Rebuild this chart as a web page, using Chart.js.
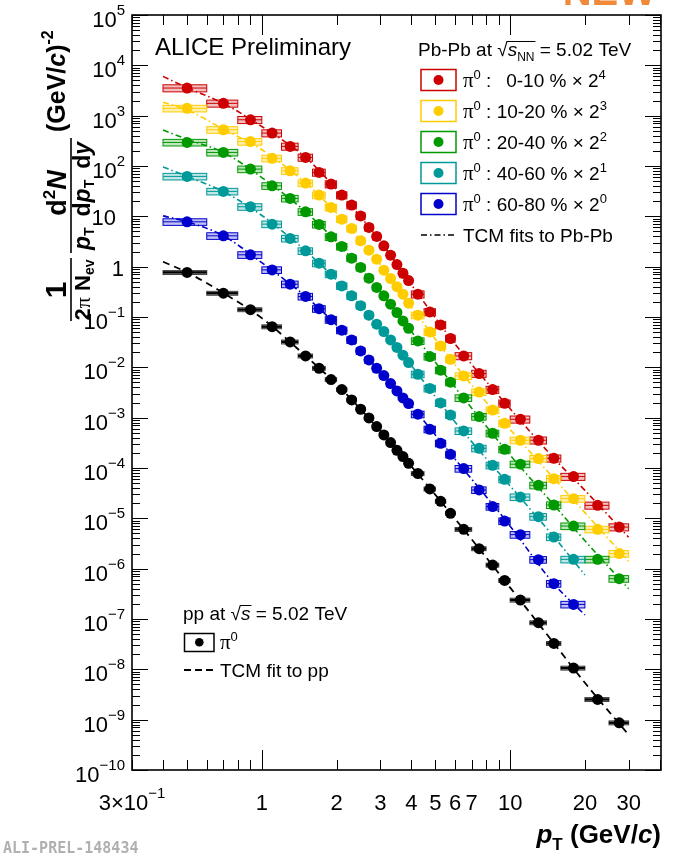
<!DOCTYPE html>
<html>
<head>
<meta charset="utf-8">
<script src="https://cdn.jsdelivr.net/npm/chart.js@4.4.1/dist/chart.umd.min.js"></script>
<style>
  html, body { margin: 0; padding: 0; background: #fff; }
  #c { display: block; }
</style>
</head>
<body>
<canvas id="c" width="688" height="855"></canvas>
<script>
// pT bins (GeV/c)
var ptCenters = [0.5,0.7,0.9,1.1,1.3,1.5,1.7,1.9,2.1,2.3,2.5,2.7,2.9,3.1,3.3,3.5,3.7,3.9,4.25,4.75,5.25,5.75,6.5,7.5,8.5,9.5,11,13,15,18,22.5,27.5];
var ptLow = [0.4,0.6,0.8,1.0,1.2,1.4,1.6,1.8,2.0,2.2,2.4,2.6,2.8,3.0,3.2,3.4,3.6,3.8,4.0,4.5,5.0,5.5,6,7,8,9,10,12,14,16,20,25];
var ptHigh = [0.6,0.8,1.0,1.2,1.4,1.6,1.8,2.0,2.2,2.4,2.6,2.8,3.0,3.2,3.4,3.6,3.8,4.0,4.5,5.0,5.5,6,7,8,9,10,12,14,16,20,25,30];

// invariant yields (already scaled by 2^n)
var yield0010 = [3540,1757,829,451,245,148,74.6,43.7,26.4,16.7,10.2,6.02,3.98,2.59,1.69,1.10,0.74,0.53,0.284,0.126,0.0696,0.0374,0.01686,0.00753,0.00362,0.00193,0.000929,0.000356,0.000156,6.75e-5,1.81e-5,6.7e-6];
var yield1020 = [1396,525,305,142,80.3,45.7,26.4,15.0,8.8,5.74,3.26,2.13,1.41,0.852,0.582,0.40,0.284,0.188,0.1086,0.0506,0.0266,0.01448,0.00675,0.00323,0.00142,0.000774,0.000356,0.000154,6.15e-5,2.46e-5,6.04e-6,1.99e-6];
var yield2040 = [294,186,86.7,40.4,22.7,12.3,6.90,3.91,2.52,1.476,0.964,0.590,0.386,0.263,0.180,0.1228,0.0836,0.0598,0.0335,0.0164,0.00876,0.00506,0.00247,0.00105,0.00049,0.000235,0.000119,4.53e-5,1.84e-5,7.03e-6,1.53e-6,6.33e-7];
var yield4060 = [62.1,31.3,15.5,7.0,3.64,2.06,1.17,0.71,0.415,0.263,0.168,0.1086,0.0719,0.0515,0.0351,0.0248,0.0174,0.01245,0.00729,0.00381,0.00196,0.00113,0.000544,0.000246,0.000113,5.96e-5,2.65e-5,1.08e-5,4.25e-6,1.53e-6];
var yield6080 = [7.78,4.10,1.72,0.863,0.449,0.256,0.146,0.0883,0.0546,0.0351,0.0212,0.0140,0.00959,0.00687,0.00476,0.0034,0.00247,0.00191,0.00117,0.000588,0.00031,0.000187,9.73e-5,3.66e-5,1.71e-5,8.84e-6,4.74e-6,1.51e-6,5.04e-7,1.95e-7];
var yieldPP = [0.767,0.297,0.140,0.0641,0.032,0.01686,0.00959,0.00572,0.00362,0.00225,0.00147,0.000986,0.000665,0.000453,0.00032,0.000225,0.000169,0.000124,7.78e-5,3.83e-5,2.18e-5,1.26e-5,6.04e-6,2.50e-6,1.18e-6,5.85e-7,2.38e-7,8.44e-8,3.27e-8,1.06e-8,2.52e-9,8.67e-10];

// TCM fit curves
var fitPt = [0.4,0.5,0.7,1,1.5,2,3,4,6,10,15,20,30];
var fitPtPeriph = [0.4,0.5,0.7,1,1.5,2,3,4,6,10,15,20];
var fit0010 = [6040,3600,1750,610,148,34,3.2,0.44,0.029,0.0015,1.56e-4,3.6e-5,4.2e-6];
var fit1020 = [1838,1300,540,210,46,11.5,1.1,0.16,0.0112,5.8e-4,6.2e-5,1.3e-5,1.4e-6];
var fit2040 = [517,340,186,59,12.3,3.1,0.32,0.052,0.004,1.8e-4,1.85e-5,3.6e-6,4e-7];
var fit4060 = [96,62,31,10.4,2.06,0.54,0.061,0.0108,8.2e-4,4.4e-5,4.3e-6,7.5e-7];
var fit6080 = [10.2,7.8,4.1,1.2,0.256,0.069,0.0081,0.0017,1.5e-4,7e-6,5e-7,1.2e-7];
var fitPP = [1.25,0.77,0.30,0.095,0.0169,0.0046,0.00055,0.000108,9.8e-6,4.2e-7,3.3e-8,5.4e-9,5e-10];

var centLabels = ["0-10", "10-20", "20-40", "40-60", "60-80"];
var scaleExps = ["4", "3", "2", "1", "0"];
var sysFrac = [0.16, 0.15, 0.15, 0.15, 0.15, 0.09];

var yTickExps = [-10,-9,-8,-7,-6,-5,-4,-3,-2,-1,0,1,2,3,4,5];
var xTickValues = [0.3,1,2,3,4,5,6,7,10,20,30];
var xTickLabels = ["3×10^−1","1","2","3","4","5","6","7","10","20","30"];

var colors = ["#cc0000", "#ffcc00", "#009900", "#009999", "#0000cc", "#000000"];
var fills = ["rgba(204,0,0,0.25)", "rgba(255,204,0,0.3)", "rgba(0,153,0,0.25)", "rgba(0,153,153,0.25)", "rgba(0,0,204,0.25)", "rgba(0,0,0,0.4)"];

var yieldSets = [yield0010, yield1020, yield2040, yield4060, yield6080, yieldPP];
var fitSets = [fit0010, fit1020, fit2040, fit4060, fit6080, fitPP];
var fitXs = [fitPt, fitPt, fitPt, fitPtPeriph, fitPtPeriph, fitPt];

var SANS = '"Liberation Sans", Arial, Helvetica, sans-serif';
var SERIF = '"Liberation Serif", "Times New Roman", serif';

function toXY(xs, ys) {
  return ys.map(function (v, j) { return { x: xs[j], y: v }; });
}

var datasets = [];
yieldSets.forEach(function (vals, i) {
  datasets.push({
    label: i < 5 ? centLabels[i] : "pp",
    data: toXY(ptCenters, vals),
    backgroundColor: colors[i],
    borderWidth: 0,
    pointRadius: 5.5,
    pointHoverRadius: 5.5,
    order: 0
  });
});
fitSets.forEach(function (vals, i) {
  datasets.push({
    label: "fit " + i,
    data: toXY(fitXs[i], vals),
    showLine: true,
    borderColor: colors[i],
    borderWidth: i < 5 ? 1.6 : 1.8,
    borderDash: i < 5 ? [6, 3, 1.5, 3] : [7, 5],
    pointRadius: 0,
    fill: false,
    cubicInterpolationMode: "monotone",
    order: 5
  });
});

// draw text made of pieces with different fonts / vertical shifts
function rich(ctx, x, y, parts, align) {
  var w = 0, widths = [];
  parts.forEach(function (p) {
    ctx.font = p[1];
    var pw = ctx.measureText(p[0]).width;
    widths.push(pw);
    w += pw;
  });
  if (align === "right") x -= w;
  else if (align === "center") x -= w / 2;
  var pos = [];
  ctx.textAlign = "left";
  ctx.textBaseline = "alphabetic";
  parts.forEach(function (p, k) {
    ctx.font = p[1];
    ctx.fillText(p[0], x, y + (p[2] || 0));
    pos.push([x, x + widths[k]]);
    x += widths[k];
  });
  return pos;
}

function line(ctx, x1, y1, x2, y2) {
  ctx.beginPath();
  ctx.moveTo(x1, y1);
  ctx.lineTo(x2, y2);
  ctx.stroke();
}

var boxPlugin = {
  id: "sysBoxes",
  beforeDatasetsDraw: function (chart) {
    var ctx = chart.ctx, xs = chart.scales.x, ys = chart.scales.y, a = chart.chartArea;
    ctx.save();
    ctx.beginPath();
    ctx.rect(a.left, a.top, a.right - a.left, a.bottom - a.top);
    ctx.clip();
    yieldSets.forEach(function (vals, i) {
      vals.forEach(function (v, j) {
        var x1 = xs.getPixelForValue(ptLow[j]);
        var x2 = xs.getPixelForValue(ptHigh[j]);
        var yt = ys.getPixelForValue(v * (1 + sysFrac[i]));
        var yb = ys.getPixelForValue(v * (1 - sysFrac[i]));
        var yc = ys.getPixelForValue(v);
        ctx.fillStyle = fills[i];
        ctx.fillRect(x1, yt, x2 - x1, yb - yt);
        ctx.strokeStyle = i < 5 ? colors[i] : "#444";
        ctx.lineWidth = 1;
        ctx.strokeRect(x1, yt, x2 - x1, yb - yt);
        ctx.strokeStyle = colors[i];
        ctx.lineWidth = i < 5 ? 1 : 2.2;
        line(ctx, x1, yc, x2, yc);
      });
    });
    ctx.restore();
  }
};

var framePlugin = {
  id: "rootFrame",
  afterDraw: function (chart) {
    var ctx = chart.ctx, xs = chart.scales.x, ys = chart.scales.y, a = chart.chartArea;
    ctx.save();
    ctx.strokeStyle = "#000";
    ctx.fillStyle = "#000";

    // ticks on y (left and right, inward)
    ctx.lineWidth = 1;
    yTickExps.forEach(function (e) {
      for (var m = 1; m <= 9; m++) {
        var v = m * Math.pow(10, e);
        if (v > 1.0001e5) break;
        var py = Math.round(ys.getPixelForValue(v)) + 0.5;
        var len = m === 1 ? 16 : 8;
        line(ctx, a.left, py, a.left + len, py);
        line(ctx, a.right, py, a.right - len, py);
      }
    });
    // ticks on x (bottom and top, inward)
    [-1, 0, 1].forEach(function (e) {
      for (var m = 1; m <= 9; m++) {
        var v = m * Math.pow(10, e);
        if (v < 0.2999 || v > 40.5) continue;
        var px = Math.round(xs.getPixelForValue(v)) + 0.5;
        var len = m === 1 ? 20 : 10;
        line(ctx, px, a.bottom, px, a.bottom - len);
        line(ctx, px, a.top, px, a.top + len);
      }
    });

    // frame
    ctx.lineWidth = 1.6;
    ctx.strokeRect(a.left, a.top, a.right - a.left, a.bottom - a.top);

    // y tick labels
    var fBase = "22px " + SANS, fExp = "15px " + SANS;
    yTickExps.forEach(function (e) {
      var py = ys.getPixelForValue(Math.pow(10, e));
      if (e === 0) {
        rich(ctx, 124, py + 9, [["1", fBase]], "right");
      } else if (e === 1) {
        rich(ctx, 116, py + 9, [["10", fBase]], "right");
      } else {
        var ex = e < 0 ? "\u2212" + (-e) : String(e);
        rich(ctx, 125, py + 12, [["10", fBase], [ex, fExp, -12]], "right");
      }
    });

    // x tick labels
    xTickValues.forEach(function (v, k) {
      var px = xs.getPixelForValue(v);
      var lab = xTickLabels[k];
      if (lab.indexOf("^") >= 0) {
        var p = lab.split("^");
        rich(ctx, px, 810, [[p[0], fBase], [p[1], fExp, -12]], "center");
      } else {
        rich(ctx, px, 810, [[lab, fBase]], "center");
      }
    });

    // x title
    rich(ctx, 661, 843, [
      ["p", "bold italic 26px " + SANS],
      ["T", "bold 17px " + SANS, 7],
      [" (GeV/", "bold 26px " + SANS],
      ["c", "bold italic 26px " + SANS],
      [")", "bold 26px " + SANS]
    ], "right");

    // y title (rotated)
    ctx.save();
    ctx.translate(71, 321);
    ctx.rotate(-Math.PI / 2);
    ctx.lineWidth = 1.6;
    line(ctx, 0, 0, 63, 0);
    rich(ctx, 31, -5, [["1", "bold 30px " + SANS]], "center");
    rich(ctx, 31, 19, [
      ["2", "bold 22px " + SANS],
      ["\u03c0", "22px " + SERIF],
      [" N", "bold 22px " + SANS],
      ["ev", "bold 14px " + SANS, 4]
    ], "center");
    line(ctx, 68, 0, 183, 0);
    rich(ctx, 128, -5, [
      ["d", "bold 27px " + SANS],
      ["2", "bold 17px " + SANS, -11],
      ["N", "bold italic 27px " + SANS]
    ], "center");
    rich(ctx, 125, 19, [
      ["p", "bold italic 23px " + SANS],
      ["T", "bold 14px " + SANS, 4],
      ["\u2009 d", "bold 23px " + SANS],
      ["p", "bold italic 23px " + SANS],
      ["T", "bold 14px " + SANS, 4],
      ["\u2009 d", "bold 23px " + SANS],
      ["y", "bold italic 23px " + SANS]
    ], "center");
    rich(ctx, 189, -6, [
      ["(GeV/", "bold 25px " + SANS],
      ["c", "bold italic 25px " + SANS],
      [")", "bold 25px " + SANS],
      ["-2", "bold 16px " + SANS, -12]
    ]);
    ctx.restore();

    // ALICE label
    rich(ctx, 155, 55, [["ALICE Preliminary", "24px " + SANS]]);

    // Pb-Pb legend
    var f19 = "19px " + SANS;
    var pos = rich(ctx, 418, 56, [
      ["Pb-Pb at ", f19],
      ["\u221a", f19],
      ["s", "italic 19px " + SANS],
      ["NN", "12px " + SANS, 5],
      [" = 5.02 TeV", f19]
    ]);
    ctx.lineWidth = 1;
    line(ctx, pos[1][1] - 1, 41.5, pos[3][1] + 1, 41.5);

    centLabels.forEach(function (lab, i) {
      var cy = 80 + i * 31;
      ctx.strokeStyle = colors[i];
      ctx.lineWidth = 1.5;
      ctx.strokeRect(421, cy - 10.5, 35, 21);
      ctx.fillStyle = colors[i];
      ctx.beginPath();
      ctx.arc(438.5, cy, 5, 0, 2 * Math.PI);
      ctx.fill();
      ctx.fillStyle = "#000";
      rich(ctx, 463, cy + 7, [
        ["\u03c0", "21px " + SERIF],
        ["0", "13px " + SANS, -8],
        [" : " + (i === 0 ? "\u2002" : "") + lab + " % \u00d7 2", f19],
        [scaleExps[i], "13px " + SANS, -8]
      ]);
    });
    ctx.strokeStyle = "#000";
    ctx.lineWidth = 1.5;
    ctx.setLineDash([6, 3, 1.5, 3]);
    line(ctx, 421, 235, 456, 235);
    ctx.setLineDash([]);
    rich(ctx, 463, 242, [["TCM fits to Pb-Pb", f19]]);

    // pp legend
    var pos2 = rich(ctx, 183, 620, [
      ["pp at ", f19],
      ["\u221a", f19],
      ["s", "italic 19px " + SANS],
      [" = 5.02 TeV", f19]
    ]);
    ctx.lineWidth = 1;
    line(ctx, pos2[1][1] - 1, 605.5, pos2[2][1] + 1, 605.5);
    ctx.lineWidth = 1.5;
    ctx.strokeRect(184.5, 633.5, 29.5, 18);
    ctx.beginPath();
    ctx.arc(199.3, 642.3, 4.3, 0, 2 * Math.PI);
    ctx.fill();
    rich(ctx, 220, 649, [["\u03c0", "21px " + SERIF], ["0", "13px " + SANS, -8]]);
    ctx.lineWidth = 1.8;
    ctx.setLineDash([7, 4]);
    line(ctx, 184, 670, 214, 670);
    ctx.setLineDash([]);
    rich(ctx, 220, 677, [["TCM fit to pp", f19]]);

    // preliminary id
    ctx.fillStyle = "#b0b0b0";
    rich(ctx, 3, 853, [["ALI-PREL-148434", "bold 15px \"DejaVu Sans Mono\", monospace"]]);

    // clipped "NEW" badge at top
    ctx.fillStyle = "#f08a3a";
    rich(ctx, 656, 5, [["NEW", "bold 40px " + SANS]], "right");

    ctx.restore();
  }
};

var ctx = document.getElementById("c").getContext("2d");
var chart = new Chart(ctx, {
  type: "scatter",
  data: { datasets: datasets },
  options: {
    responsive: false,
    animation: false,
    devicePixelRatio: 1,
    layout: { padding: { left: 132, top: 15, right: 27, bottom: 85 } },
    plugins: { legend: { display: false }, tooltip: { enabled: false } },
    scales: {
      x: { type: "logarithmic", min: 0.3, max: 40.5, display: false },
      y: { type: "logarithmic", min: 1e-10, max: 1e5, display: false }
    }
  },
  plugins: [boxPlugin, framePlugin]
});
</script>
</body>
</html>
